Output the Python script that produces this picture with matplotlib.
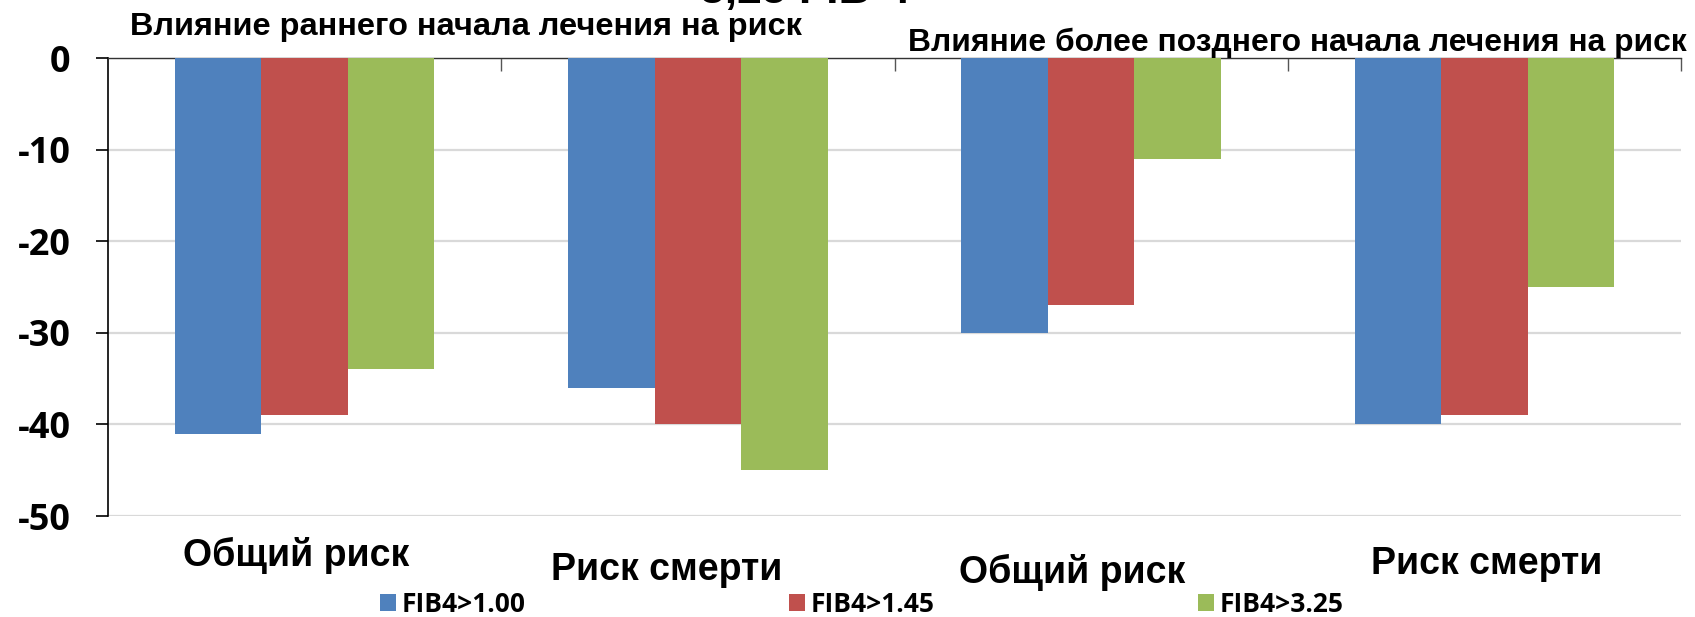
import matplotlib.pyplot as plt
from matplotlib.patches import Patch

# FIB-4 groups, change in risk (%)
categories = ['Общий риск', 'Риск смерти', 'Общий риск', 'Риск смерти']
series_names = ['FIB4>1.00', 'FIB4>1.45', 'FIB4>3.25']
fib_100 = [-41, -36, -30, -40]
fib_145 = [-39, -40, -27, -39]
fib_325 = [-34, -45, -11, -25]
y_ticks = [0, -10, -20, -30, -40, -50]

colors = ['#4F81BD', '#C0504D', '#9BBB59']
series = [fib_100, fib_145, fib_325]

W, H = 1695, 617
fig = plt.figure(figsize=(W / 100, H / 100), dpi=100)
ax = fig.add_axes([108 / W, 1 - 516 / H, 1573 / W, 458 / H])


def px(x, y):
    # pixel position from the top-left corner -> figure fraction
    return x / W, 1 - y / H


width = 0.22
x = range(len(categories))
for k, (vals, col) in enumerate(zip(series, colors)):
    ax.bar([i + (k - 1) * width for i in x], vals, width=width, color=col,
           label=series_names[k], zorder=3)

ax.set_xlim(-0.5, len(categories) - 0.5)
ax.set_ylim(-50, 0)
ax.set_yticks(y_ticks)
ax.set_yticklabels([str(v) for v in y_ticks], fontfamily='Open Sans',
                   fontweight='bold', fontsize=26)
ax.tick_params(axis='y', direction='out', length=9, width=1.2, pad=18,
               color='black')
ax.yaxis.grid(True, color='#d9d9d9', linewidth=1.6, zorder=0)

# category axis sits at zero, with boundary ticks pointing down
ax.xaxis.tick_top()
ax.set_xticks([i + 0.5 for i in x])
ax.set_xticklabels([])
ax.tick_params(axis='x', direction='in', length=9, width=1, color='#555555')

for side in ['right', 'bottom']:
    ax.spines[side].set_visible(False)
ax.spines['top'].set_color('#333333')
ax.spines['top'].set_linewidth(1.0)
ax.spines['left'].set_color('black')
ax.spines['left'].set_linewidth(1.2)

# category labels under the plot, staggered (centre x, baseline y)
label_pos = [(296, 566), (667, 580), (1072, 583), (1487, 574)]
for name, (lx, ly) in zip(categories, label_pos):
    fig.text(*px(lx, ly), name, ha='center', va='baseline',
             fontfamily='Liberation Sans', fontweight='bold', fontsize=27)

# headings above the two halves
fig.text(*px(466, 35), 'Влияние раннего начала лечения на риск',
         ha='center', va='baseline', fontfamily='Liberation Sans',
         fontweight='bold', fontsize=23.4)
fig.text(*px(1687, 51), 'Влияние более позднего начала лечения на риск',
         ha='right', va='baseline', fontfamily='Liberation Sans',
         fontweight='bold', fontsize=22.9)
# heading line above the figure edge, only its lower part shows
fig.text(*px(700, 3), '3,25 FIB-4', ha='left', va='baseline',
         fontfamily='Liberation Sans', fontweight='bold', fontsize=32)

handles = [Patch(facecolor=c, edgecolor='none') for c in colors]
fig.legend(handles, series_names, loc='center', ncol=3,
           bbox_to_anchor=px(862, 604), frameon=False,
           prop={'family': 'Open Sans', 'weight': 'bold', 'size': 19},
           handlelength=0.6, handleheight=0.6, handletextpad=0.2,
           columnspacing=10.0, borderpad=0, borderaxespad=0)

fig.savefig('out.png', dpi=100)
